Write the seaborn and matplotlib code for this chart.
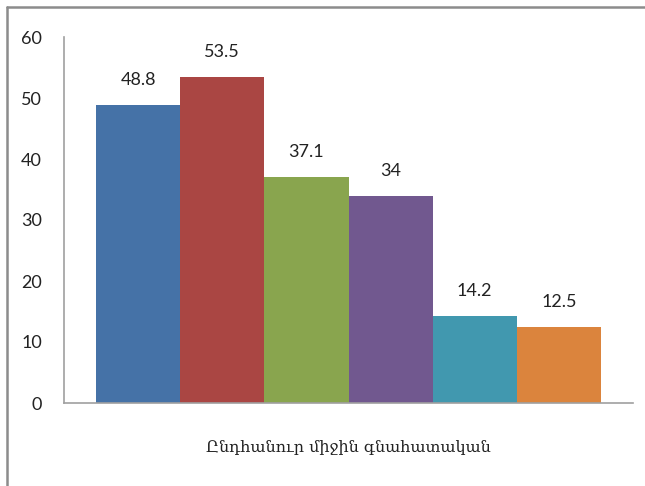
import numpy as np
import pandas as pd
import matplotlib.pyplot as plt
import seaborn as sns
from matplotlib.lines import Line2D

# Տվյալներ
groups = ["Ա", "Բ", "Գ", "Դ", "Ե", "Զ"]
values = [48.8, 53.5, 37.1, 34, 14.2, 12.5]
value_labels = ["48.8", "53.5", "37.1", "34", "14.2", "12.5"]
colors = ["#4572A7", "#AA4643", "#89A54E", "#71588F", "#4198AF", "#DB843D"]
xlabel = "Ընդհանուր միջին գնահատական"
yticks = [0, 10, 20, 30, 40, 50, 60]

df = pd.DataFrame({"group": groups, "value": values})

sns.set_style("white")
plt.rcParams['font.family'] = ['Lato', 'DejaVu Sans']

fig = plt.figure(figsize=(6.45, 4.86), dpi=100)
ax = fig.add_axes([64 / 645, 83 / 486, 569 / 645, 366 / 486])

sns.barplot(data=df, x="group", y="value", hue="group", palette=colors,
            width=1.0, legend=False, saturation=1, ax=ax, linewidth=0)

for i, (v, lab) in enumerate(zip(values, value_labels)):
    ax.text(i, v + 2.8, lab, ha="center", va="bottom", fontsize=13, color="#222222")

ax.set_xlim(-0.88, 5.88)
ax.set_ylim(0, 60)
ax.set_yticks(yticks)
ax.set_xticks([])
ax.tick_params(axis="y", length=0, pad=16, labelsize=13, labelcolor="#222222")
ax.set_ylabel("")
ax.set_xlabel(xlabel, fontsize=11.5, family=['DejaVu Serif', 'DejaVu Sans'],
              labelpad=26, color="#222222")

for side in ["top", "right"]:
    ax.spines[side].set_visible(False)
for side in ["left", "bottom"]:
    ax.spines[side].set_color("#A0A0A0")
    ax.spines[side].set_linewidth(1.2)

# շրջանակ
fx = 7 / 645
fy = 1 - 7 / 486
fig.add_artist(Line2D([fx, fx], [0, fy], transform=fig.transFigure, color="#8C8C8C", lw=1.8))
fig.add_artist(Line2D([fx, 1], [fy, fy], transform=fig.transFigure, color="#8C8C8C", lw=1.8))

fig.savefig("out.png", dpi=100)
